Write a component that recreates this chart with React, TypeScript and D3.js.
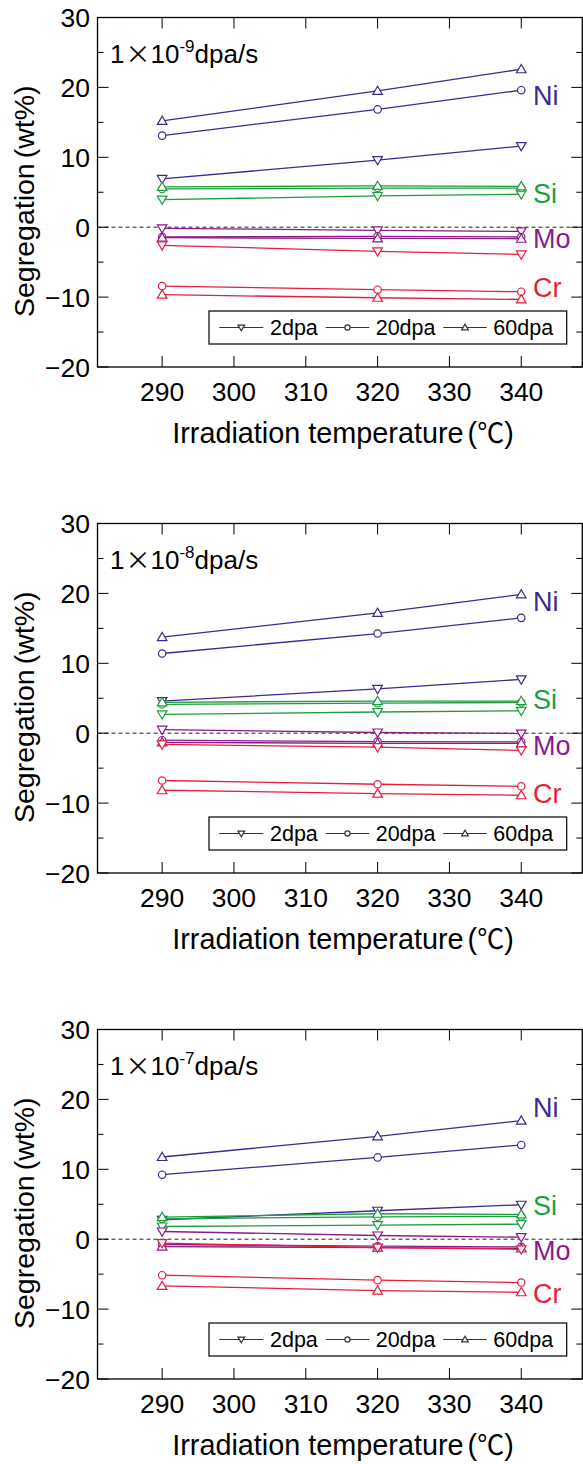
import React from "react";
import * as d3 from "d3";

// ---- data ----
const temps = [290, 320, 340];
const xTicks = [290, 300, 310, 320, 330, 340];
const yTicks = [-20, -10, 0, 10, 20, 30];
const yMinorTicks = [-15, -5, 5, 15, 25];
const rateExponents = ["-9", "-8", "-7"];
const dpaLabels = ["2dpa", "20dpa", "60dpa"];
const elements = ["Ni", "Si", "Mo", "Cr"];
const elementColors = ["#3b2a8f", "#1d9e3e", "#8c1a88", "#e61e3c"];

// rows: 2dpa, 20dpa, 60dpa ; columns: temps
const ni_p1 = [[6.9, 9.6, 11.6], [13.1, 16.85, 19.6], [15.2, 19.5, 22.6]];
const si_p1 = [[3.95, 4.47, 4.7], [5.47, 5.6, 5.6], [5.76, 5.9, 5.85]];
const mo_p1 = [[-0.16, -0.45, -0.6], [-1.4, -1.3, -1.4], [-1.5, -1.6, -1.65]];
const cr_p1 = [[-2.6, -3.45, -3.9], [-8.42, -8.94, -9.23], [-9.66, -10.09, -10.33]];

const ni_p2 = [[4.6, 6.33, 7.7], [11.4, 14.26, 16.5], [13.74, 17.2, 19.86]];
const si_p2 = [[2.7, 3.03, 3.2], [4.13, 4.3, 4.4], [4.42, 4.6, 4.6]];
const mo_p2 = [[0.5, 0.1, -0.05], [-1.0, -1.2, -1.25], [-1.3, -1.45, -1.45]];
const cr_p2 = [[-1.6, -2.0, -2.45], [-6.77, -7.3, -7.6], [-8.16, -8.64, -8.88]];

const ni_p3 = [[2.78, 4.07, 4.93], [9.23, 11.7, 13.48], [11.76, 14.72, 16.96]];
const si_p3 = [[1.82, 2.0, 2.15], [2.92, 3.2, 3.26], [3.16, 3.64, 3.55]];
const mo_p3 = [[1.1, 0.53, 0.29], [-0.76, -1.0, -1.1], [-1.05, -1.2, -1.33]];
const cr_p3 = [[-0.56, -1.2, -1.45], [-5.15, -5.86, -6.2], [-6.68, -7.35, -7.59]];

// element label anchor values (data units)
const labelY_p1 = [17.5, 3.4, -3.0, -10.0];
const labelY_p2 = [17.5, 3.4, -3.1, -10.0];
const labelY_p3 = [17.5, 3.4, -3.0, -9.1];

const panelData = [
  [ni_p1, si_p1, mo_p1, cr_p1],
  [ni_p2, si_p2, mo_p2, cr_p2],
  [ni_p3, si_p3, mo_p3, cr_p3],
];
const panelLabelY = [labelY_p1, labelY_p2, labelY_p3];

// ---- layout ----
const W = 583;
const H = 1464;
const FONT = "'Liberation Sans', Arial, Helvetica, sans-serif";
const CJK = "'Noto Sans CJK JP', 'Liberation Sans', sans-serif";
const panelTops = [17.5, 523.5, 1029.5];
const panelH = 349.5;
const left = 97.5;
const right = 582.3;

function Marker({ kind, x, y, color, s = 1 }: { kind: number; x: number; y: number; color: string; s?: number }) {
  if (kind === 1) {
    return <circle cx={x} cy={y} r={3.7 * s} fill="white" stroke={color} strokeWidth={1.2} />;
  }
  const a = 4.8 * s;
  const b = 3.5 * s;
  const c = 4.8 * s;
  const d =
    kind === 0
      ? `M${x - a},${y - b}L${x + a},${y - b}L${x},${y + c}Z`
      : `M${x - a},${y + b}L${x + a},${y + b}L${x},${y - c}Z`;
  return <path d={d} fill="white" stroke={color} strokeWidth={1.2} />;
}

function Panel({ idx }: { idx: number }) {
  const top = panelTops[idx];
  const bottom = top + panelH;
  const x = d3.scaleLinear().domain([281, 348.5]).range([left, right]);
  const y = d3.scaleLinear().domain([-20, 30]).range([bottom, top]);
  const line = d3
    .line<number>()
    .x((_, i) => x(temps[i]))
    .y((v) => y(v));
  const data = panelData[idx];
  const labY = panelLabelY[idx];

  const legTop = bottom - 56;
  const legH = 33;
  const legCy = legTop + legH / 2;
  const legendItems = [
    { x1: 219.3, x2: 263.3, tx: 270 },
    { x1: 325.7, x2: 369.3, tx: 375.7 },
    { x1: 443.3, x2: 486.7, tx: 493.3 },
  ];

  return (
    <g>
      {/* zero dashed line */}
      <line x1={left} x2={right} y1={y(0)} y2={y(0)} stroke="#222" strokeWidth={1} strokeDasharray="4,3" />
      {/* ticks */}
      {xTicks.map((t) => (
        <g key={"xt" + t}>
          <line x1={x(t)} x2={x(t)} y1={bottom} y2={bottom - 11} stroke="#000" strokeWidth={1} />
          <line x1={x(t)} x2={x(t)} y1={top} y2={top + 11} stroke="#000" strokeWidth={1} />
          <text x={x(t)} y={bottom + 34} fontSize={26.5} textAnchor="middle" fontFamily={FONT}>
            {t}
          </text>
        </g>
      ))}
      {yTicks.map((t) => (
        <g key={"yt" + t}>
          <line x1={left} x2={left + 11} y1={y(t)} y2={y(t)} stroke="#000" strokeWidth={1} />
          <line x1={right} x2={right - 11} y1={y(t)} y2={y(t)} stroke="#000" strokeWidth={1} />
          <text x={90} y={y(t)} dy="0.36em" fontSize={26.5} textAnchor="end" fontFamily={FONT}>
            {t < 0 ? "\u2212" + Math.abs(t) : t}
          </text>
        </g>
      ))}
      {yMinorTicks.map((t) => (
        <g key={"ym" + t}>
          <line x1={left} x2={left + 6} y1={y(t)} y2={y(t)} stroke="#000" strokeWidth={1} />
          <line x1={right} x2={right - 6} y1={y(t)} y2={y(t)} stroke="#000" strokeWidth={1} />
        </g>
      ))}
      {/* series */}
      {elements.map((el, ei) =>
        data[ei].map((series, di) => (
          <g key={el + di}>
            <path d={line(series) || ""} fill="none" stroke={elementColors[ei]} strokeWidth={1.3} />
            {series.map((v, i) => (
              <Marker key={i} kind={di} x={x(temps[i])} y={y(v)} color={elementColors[ei]} />
            ))}
          </g>
        ))
      )}
      {/* element labels */}
      {elements.map((el, ei) => (
        <text key={"lab" + el} x={533} y={y(labY[ei])} fontSize={27} fill={elementColors[ei]} fontFamily={FONT}>
          {el}
        </text>
      ))}
      {/* rate text */}
      <text x={110} y={top + 45.5} fontSize={26} fontFamily={FONT} fill="#000">
        <tspan>1</tspan>
        <tspan fontFamily={CJK} fontSize={25} dx={1}>
          ×
        </tspan>
        <tspan>10</tspan>
        <tspan fontSize={17} dy={-11}>
          {rateExponents[idx]}
        </tspan>
        <tspan dy={11}>dpa/s</tspan>
      </text>
      {/* legend */}
      <rect x={209} y={legTop} width={357.7} height={legH} fill="white" stroke="#000" strokeWidth={1.2} />
      {legendItems.map((it, i) => (
        <g key={"leg" + i}>
          <line x1={it.x1} x2={it.x2} y1={legCy} y2={legCy} stroke="#333" strokeWidth={1} />
          <Marker kind={i} x={(it.x1 + it.x2) / 2} y={legCy} color="#333" s={0.7} />
          <text x={it.tx} y={legCy} dy="0.36em" fontSize={21.5} fontFamily={FONT}>
            {dpaLabels[i]}
          </text>
        </g>
      ))}
      {/* frame */}
      <rect x={left} y={top} width={right - left} height={panelH} fill="none" stroke="#000" strokeWidth={1.3} />
      {/* axis titles */}
      <text x={343} y={bottom + 76} fontSize={28.8} textAnchor="middle" fontFamily={FONT}>
        Irradiation temperature
        <tspan dx={4}>(</tspan>
        <tspan fontFamily={CJK} fontSize={27}>℃</tspan>
        <tspan>)</tspan>
      </text>
      <text
        transform={`translate(34,${(top + bottom) / 2 + 9}) rotate(-90)`}
        fontSize={28.5}
        textAnchor="middle"
        fontFamily={FONT}
      >
        Segregation<tspan dx={5}>(wt%)</tspan>
      </text>
    </g>
  );
}

export default function App() {
  return (
    <svg width={W} height={H} style={{ display: "block", position: "absolute", left: 0, top: 0 }}>
      <rect x={0} y={0} width={W} height={H} fill="white" />
      {[0, 1, 2].map((i) => (
        <Panel key={i} idx={i} />
      ))}
    </svg>
  );
}
